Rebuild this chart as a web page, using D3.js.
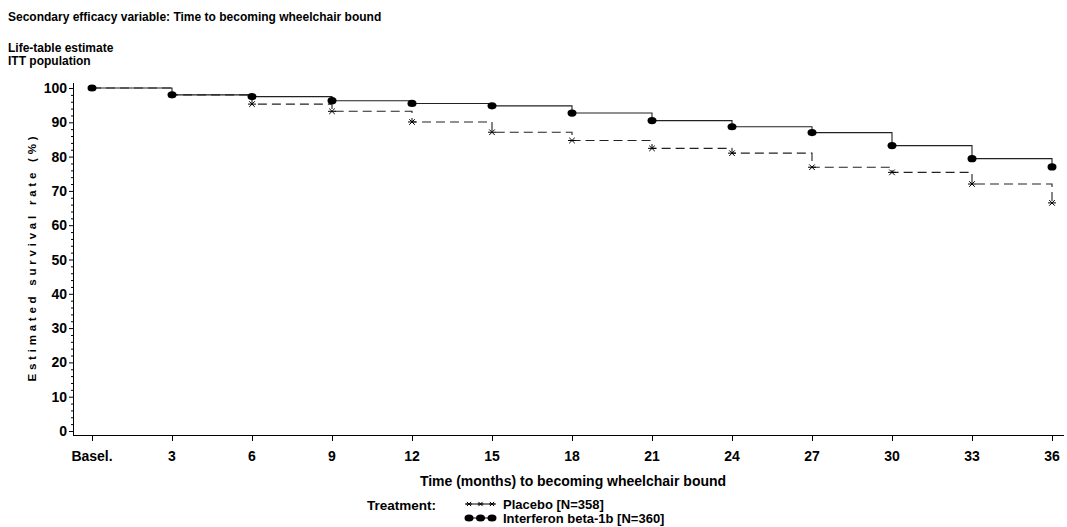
<!DOCTYPE html>
<html>
<head>
<meta charset="utf-8">
<script src="https://cdn.jsdelivr.net/npm/d3@7.9.0/dist/d3.min.js"></script>
<style>
  body { margin: 0; background: #fff; }
  svg { display: block; font-family: "Liberation Sans", Arial, sans-serif; font-weight: bold; }
</style>
</head>
<body>
<svg id="chart" width="1067" height="527"></svg>
<script>
// Data
const months       = [0, 3, 6, 9, 12, 15, 18, 21, 24, 27, 30, 33, 36];
const monthLabels  = ['Basel.', '3', '6', '9', '12', '15', '18', '21', '24', '27', '30', '33', '36'];
const placebo      = [100, 98, 95.3, 93.2, 90.1, 87.1, 84.7, 82.4, 81.0, 76.9, 75.4, 72.0, 66.5];
const interferon   = [100, 98, 97.5, 96.3, 95.5, 94.8, 92.7, 90.5, 88.7, 87.0, 83.2, 79.4, 77.0];
const yTicks       = [0, 10, 20, 30, 40, 50, 60, 70, 80, 90, 100];
const seriesNames  = ['Placebo [N=358]', 'Interferon beta-1b [N=360]'];

const svg = d3.select('#chart');

// Scales
const x = d3.scaleLinear().domain([0, 36]).range([92, 1052]);
const y = d3.scaleLinear().domain([0, 100]).range([431, 88]);

// Titles
svg.append('text').attr('x', 8).attr('y', 21).attr('font-size', 12).text('Secondary efficacy variable: Time to becoming wheelchair bound');
svg.append('text').attr('x', 8).attr('y', 52).attr('font-size', 12).text('Life-table estimate');
svg.append('text').attr('x', 8).attr('y', 64.5).attr('font-size', 12).text('ITT population');

// Axes lines
svg.append('line').attr('x1', 73.5).attr('x2', 73.5).attr('y1', 83).attr('y2', 435).attr('stroke', '#000');
svg.append('line').attr('x1', 73).attr('x2', 1064).attr('y1', 435.5).attr('y2', 435.5).attr('stroke', '#000');

// Y axis ticks (major every 10, minor every 2)
const yAxis = svg.append('g');
d3.range(0, 101, 2).forEach(v => {
  const major = v % 10 === 0;
  yAxis.append('line')
    .attr('x1', 73).attr('x2', major ? 69 : 71)
    .attr('y1', y(v) + 0.5).attr('y2', y(v) + 0.5)
    .attr('stroke', '#000');
});
yAxis.selectAll('text.ytick').data(yTicks).join('text')
  .attr('class', 'ytick')
  .attr('x', 67).attr('y', d => y(d) + 5)
  .attr('text-anchor', 'end').attr('font-size', 14)
  .text(d => d);

svg.append('text')
  .attr('transform', 'translate(36,259) rotate(-90)')
  .attr('text-anchor', 'middle').attr('font-size', 11.5)
  .attr('textLength', 245).attr('lengthAdjust', 'spacing')
  .text('Estimated survival rate (%)');

// X axis ticks
const xAxis = svg.append('g');
xAxis.selectAll('line').data(months).join('line')
  .attr('x1', d => x(d) + 0.5).attr('x2', d => x(d) + 0.5)
  .attr('y1', 435).attr('y2', 441).attr('stroke', '#000');
xAxis.selectAll('text').data(months).join('text')
  .attr('x', d => x(d)).attr('y', 461)
  .attr('text-anchor', 'middle').attr('font-size', 14)
  .text((d, i) => monthLabels[i]);

svg.append('text').attr('x', 573).attr('y', 486)
  .attr('text-anchor', 'middle').attr('font-size', 14)
  .text('Time (months) to becoming wheelchair bound');

// Step lines
const step = d3.line().x(d => x(d[0])).y(d => y(d[1])).curve(d3.curveStepAfter);
const placeboPts = months.map((m, i) => [m, placebo[i]]);
const interferonPts = months.map((m, i) => [m, interferon[i]]);

svg.append('path').attr('d', step(placeboPts))
  .attr('fill', 'none').attr('stroke', '#222').attr('stroke-width', 1.1)
  .attr('stroke-dasharray', '9,5');
svg.append('path').attr('d', step(interferonPts))
  .attr('fill', 'none').attr('stroke', '#222').attr('stroke-width', 1.1);

// Markers
function star(g, cx, cy, r) {
  g.append('path')
    .attr('d', `M${cx - r},${cy}H${cx + r}M${cx - r * 0.7},${cy - r * 0.7}L${cx + r * 0.7},${cy + r * 0.7}M${cx - r * 0.7},${cy + r * 0.7}L${cx + r * 0.7},${cy - r * 0.7}`)
    .attr('stroke', '#000').attr('stroke-width', 1).attr('fill', 'none');
}
const marks = svg.append('g');
placeboPts.forEach(d => star(marks, x(d[0]), y(d[1]), 4));
marks.selectAll('ellipse').data(interferonPts).join('ellipse')
  .attr('cx', d => x(d[0])).attr('cy', d => y(d[1]))
  .attr('rx', 4.5).attr('ry', 3.6).attr('fill', '#000');

// Legend
const legend = svg.append('g');
legend.append('text').attr('x', 367).attr('y', 510).attr('font-size', 13.5).text('Treatment:');
legend.append('line').attr('x1', 465).attr('x2', 496).attr('y1', 504).attr('y2', 504).attr('stroke', '#000');
[469, 480.5, 492].forEach(cx => star(legend, cx, 504, 3));
legend.append('line').attr('x1', 465).attr('x2', 496).attr('y1', 518).attr('y2', 518).attr('stroke', '#000');
[469, 480.5, 492].forEach(cx => legend.append('ellipse').attr('cx', cx).attr('cy', 518).attr('rx', 4.5).attr('ry', 3.6).attr('fill', '#000'));
legend.append('text').attr('x', 503).attr('y', 509).attr('font-size', 13).text(seriesNames[0]);
legend.append('text').attr('x', 503).attr('y', 523).attr('font-size', 13).text(seriesNames[1]);
</script>
</body>
</html>
